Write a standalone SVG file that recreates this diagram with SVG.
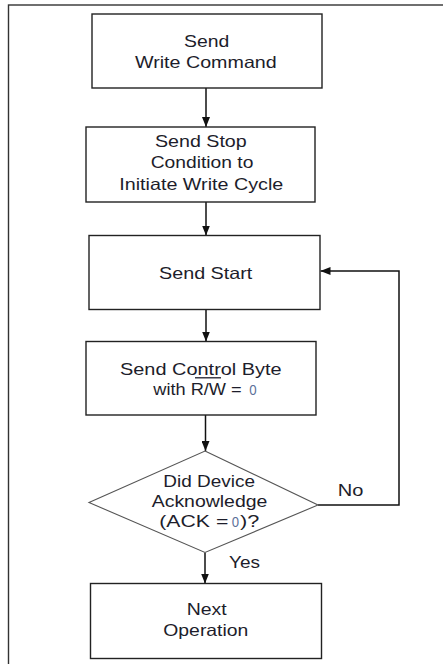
<svg xmlns="http://www.w3.org/2000/svg" width="443" height="664" viewBox="0 0 443 664">
<style>
.box{fill:#fff;stroke:#222;stroke-width:1.4}
.dia{fill:#fff;stroke:#555;stroke-width:1.1}
.ln{fill:none;stroke:#111;stroke-width:1.5}
.t{font-family:"Liberation Sans",Arial,sans-serif;font-size:16.5px;fill:#1d1d2b}
.z{font-family:"Liberation Sans",Arial,sans-serif;font-size:14px;fill:#5b6f99}
</style>
<defs>
<marker id="ah" markerUnits="userSpaceOnUse" markerWidth="10" markerHeight="8" refX="10" refY="4" orient="auto">
<path d="M0,0 L10,4 L0,8 z" fill="#111"/>
</marker>
</defs>
<rect x="8.5" y="5" width="460" height="700" fill="#fff" stroke="#333" stroke-width="1.4"/>
<g id="connectors">
<path class="ln" d="M206,88 V127" marker-end="url(#ah)"/>
<path class="ln" d="M206,202 V235.5" marker-end="url(#ah)"/>
<path class="ln" d="M206,309.5 V341.5" marker-end="url(#ah)"/>
<path class="ln" d="M205.5,415 V451" marker-end="url(#ah)"/>
<path class="ln" d="M205,552.5 V583.5" marker-end="url(#ah)"/>
<path class="ln" d="M318,505 H399 V271 H320.5" marker-end="url(#ah)"/>
<text class="t" x="337.7" y="496" textLength="25.6" lengthAdjust="spacingAndGlyphs">No</text>
<text class="t" x="229" y="567.7" textLength="31" lengthAdjust="spacingAndGlyphs">Yes</text>
</g>
<g id="n1">
<rect class="box" x="92" y="14" width="230" height="74"/>
<text class="t" x="184" y="46.7" textLength="45.3" lengthAdjust="spacingAndGlyphs">Send</text>
<text class="t" x="135" y="68.3" textLength="141.7" lengthAdjust="spacingAndGlyphs">Write Command</text>
</g>
<g id="n2">
<rect class="box" x="86" y="127" width="229" height="75"/>
<text class="t" x="155" y="147.3" textLength="91.7" lengthAdjust="spacingAndGlyphs">Send Stop</text>
<text class="t" x="150.7" y="168.3" textLength="102.7" lengthAdjust="spacingAndGlyphs">Condition to</text>
<text class="t" x="119.3" y="190" textLength="164" lengthAdjust="spacingAndGlyphs">Initiate Write Cycle</text>
</g>
<g id="n3">
<rect class="box" x="89" y="235.5" width="231" height="74"/>
<text class="t" x="159" y="279" textLength="93.3" lengthAdjust="spacingAndGlyphs">Send Start</text>
</g>
<g id="n4">
<rect class="box" x="86" y="341.5" width="230" height="73.5"/>
<text class="t" x="120" y="374.5" textLength="161.7" lengthAdjust="spacingAndGlyphs">Send Control Byte</text>
<line x1="195" y1="377.8" x2="221" y2="377.8" stroke="#1d1d2b" stroke-width="1.3"/>
<text class="t" x="153.3" y="394.5" textLength="88.4" lengthAdjust="spacingAndGlyphs">with R/W =</text>
<text class="z" x="249.3" y="394.5" textLength="7.4" lengthAdjust="spacingAndGlyphs">0</text>
</g>
<g id="n5">
<polygon class="dia" points="205,451 318,505 205,552.5 89,502.5"/>
<text class="t" x="163.3" y="486.7" textLength="91.7" lengthAdjust="spacingAndGlyphs">Did Device</text>
<text class="t" x="151.7" y="506.8" textLength="115.7" lengthAdjust="spacingAndGlyphs">Acknowledge</text>
<text class="t" x="159.3" y="527.3" textLength="69" lengthAdjust="spacingAndGlyphs">(ACK =</text>
<text class="z" x="231.7" y="527.3" textLength="7.3" lengthAdjust="spacingAndGlyphs">0</text>
<text class="t" x="240" y="527.3" textLength="19.3" lengthAdjust="spacingAndGlyphs">)?</text>
</g>
<g id="n6">
<rect class="box" x="90.5" y="583.5" width="231" height="75"/>
<text class="t" x="186.7" y="615" textLength="40" lengthAdjust="spacingAndGlyphs">Next</text>
<text class="t" x="163.3" y="635.7" textLength="85" lengthAdjust="spacingAndGlyphs">Operation</text>
</g>
</svg>
